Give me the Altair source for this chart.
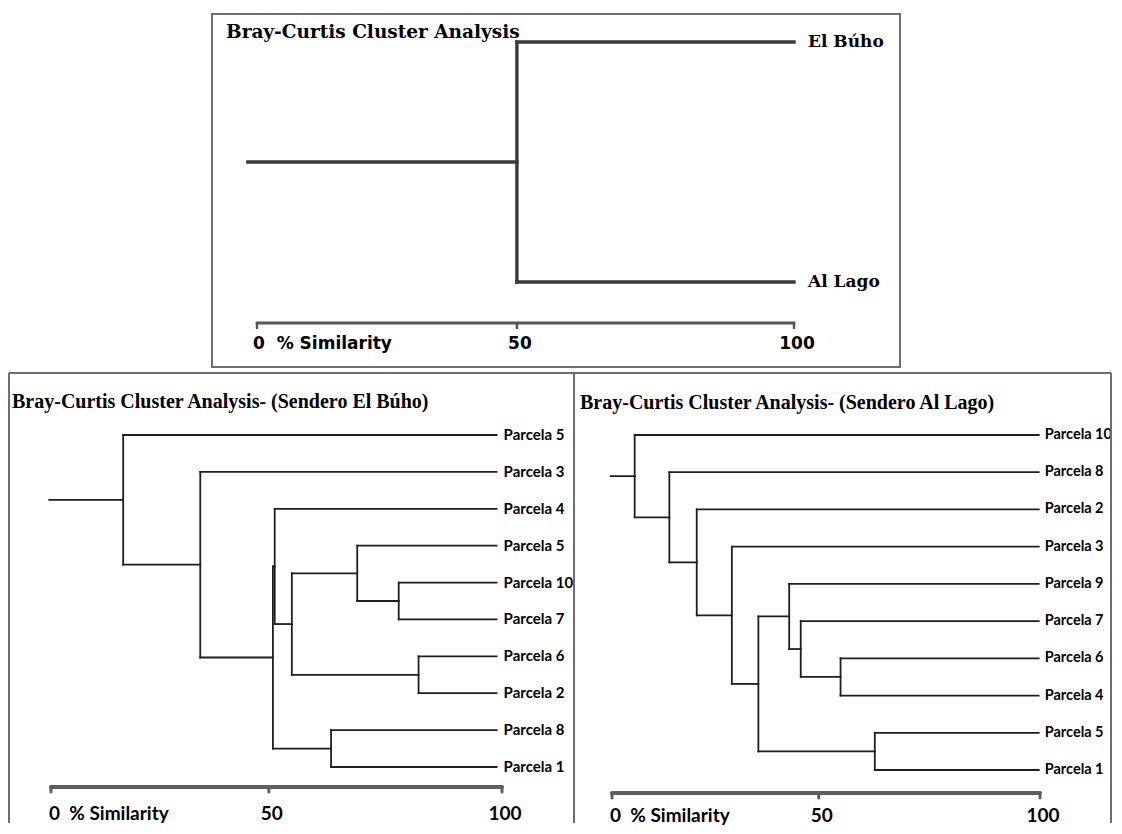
import altair as alt
import pandas as pd

# ---------------- data ----------------
# merges: (child_a, child_b, % similarity); leaves are 0..n-1, new nodes n, n+1, ...
top_leaves = ["El Búho", "Al Lago"]
top_merges = [(0, 1, 48.4)]
top_root_from = -1.7
top_leaf_level = 100.0

buho_leaves = ["Parcela 5", "Parcela 3", "Parcela 4", "Parcela 5", "Parcela 10",
               "Parcela 7", "Parcela 6", "Parcela 2", "Parcela 8", "Parcela 1"]
buho_merges = [(4, 5, 77.1), (3, 10, 67.9), (6, 7, 81.5), (11, 12, 53.4),
               (8, 9, 62.1), (2, 13, 49.6), (15, 14, 49.2), (1, 16, 33.1),
               (0, 17, 16.0)]
buho_root_from = -0.4
buho_leaf_level = 98.8

lago_leaves = ["Parcela 10", "Parcela 8", "Parcela 2", "Parcela 3", "Parcela 9",
               "Parcela 7", "Parcela 6", "Parcela 4", "Parcela 5", "Parcela 1"]
lago_merges = [(6, 7, 53.4), (5, 10, 44.1), (4, 11, 41.4), (8, 9, 61.4),
               (12, 13, 34.2), (3, 14, 28.0), (2, 15, 19.8), (1, 16, 13.4),
               (0, 17, 5.3)]
lago_root_from = -0.3
lago_leaf_level = 99.7

axis_from = 0
axis_to = 100
top_tick_values = [0, 48.4, 100]
bottom_tick_values = [0, 48.3, 100]
tick_labels = ["0\u00a0\u00a0% Similarity", "50", "100"]

top_title = "Bray-Curtis Cluster Analysis"
buho_title = "Bray-Curtis Cluster Analysis- (Sendero El Búho)"
lago_title = "Bray-Curtis Cluster Analysis- (Sendero Al Lago)"

BOX_COLOR = "#6e6e6e"


def segments(n_leaves, merges, root_from, leaf_level):
    ys = [float(i) for i in range(n_leaves)]
    xs = [leaf_level] * n_leaves
    segs = []
    for a, b, s in merges:
        segs.append(dict(x=s, x2=s, y=ys[a], y2=ys[b]))
        segs.append(dict(x=s, x2=xs[a], y=ys[a], y2=ys[a]))
        segs.append(dict(x=s, x2=xs[b], y=ys[b], y2=ys[b]))
        ys.append((ys[a] + ys[b]) / 2)
        xs.append(s)
    segs.append(dict(x=root_from, x2=xs[-1], y=ys[-1], y2=ys[-1]))
    return pd.DataFrame(segs)


def panel(leaves, merges, root_from, leaf_level, ticks, title, g, st, open_bottom):
    n = len(leaves)
    ppu = (g["x100"] - g["x0"]) / 100.0
    xdom = [-g["x0"] / ppu, (g["w"] - g["x0"]) / ppu]
    ppl = (g["ylast"] - g["yfirst"]) / (n - 1)
    ydom = [-g["yfirst"] / ppl, (g["h"] - g["yfirst"]) / ppl]
    xs = alt.Scale(domain=xdom, nice=False, zero=False)
    ysc = alt.Scale(domain=ydom, nice=False, zero=False, reverse=True)

    seg_df = segments(n, merges, root_from, leaf_level)
    branches = alt.Chart(seg_df).mark_rule(
        color=st["line_color"], strokeWidth=st["line_width"], strokeCap="square"
    ).encode(
        x=alt.X("x:Q", scale=xs, axis=None),
        x2="x2:Q",
        y=alt.Y("y:Q", scale=ysc, axis=None),
        y2="y2:Q",
    )

    leaf_df = pd.DataFrame({"x": [leaf_level] * n, "y": list(range(n)), "label": leaves})
    labels = alt.Chart(leaf_df).mark_text(
        align="left", baseline="middle", dx=st["label_dx"], font=st["label_font"],
        fontSize=st["label_size"], fontWeight="bold", color="black"
    ).encode(
        x=alt.X("x:Q", scale=xs, axis=None),
        y=alt.Y("y:Q", scale=ysc, axis=None),
        text="label:N",
    )

    axis_df = pd.DataFrame({"a": [axis_from], "b": [axis_to]})
    axis_line = alt.Chart(axis_df).mark_rule(
        color=st["axis_color"], strokeWidth=st["axis_width"], strokeCap="round"
    ).encode(
        x=alt.X("a:Q", scale=xs, axis=None), x2="b:Q", y=alt.value(g["axis_y"])
    )

    tick_df = pd.DataFrame({"v": ticks, "t": tick_labels})
    tick_marks = alt.Chart(tick_df).mark_rule(
        color=st["axis_color"], strokeWidth=st["tick_width"], strokeCap="round"
    ).encode(
        x=alt.X("v:Q", scale=xs, axis=None),
        y=alt.value(g["axis_y"]),
        y2=alt.value(g["axis_y"] + st["tick_len"]),
    )
    first_label = alt.Chart(tick_df.iloc[:1]).mark_text(
        align="left", baseline="middle", dx=st["first_dx"], font=st["axis_font"],
        fontSize=st["axis_size"], fontWeight="bold", color="black"
    ).encode(x=alt.X("v:Q", scale=xs, axis=None), y=alt.value(g["label_y"]), text="t:N")
    other_labels = alt.Chart(tick_df.iloc[1:]).mark_text(
        align="center", baseline="middle", dx=3, font=st["axis_font"],
        fontSize=st["axis_size"], fontWeight="bold", color="black"
    ).encode(x=alt.X("v:Q", scale=xs, axis=None), y=alt.value(g["label_y"]), text="t:N")

    title_df = pd.DataFrame({"t": [title]})
    title_mark = alt.Chart(title_df).mark_text(
        align="left", baseline="middle", font=st["title_font"],
        fontSize=st["title_size"], fontWeight="bold", color="black"
    ).encode(x=alt.value(g["title_x"]), y=alt.value(g["title_y"]), text="t:N")

    layers = [branches, labels, axis_line, tick_marks, first_label, other_labels, title_mark]

    if open_bottom:
        # frame open at the bottom (the reference is cut off there)
        frame_df = pd.DataFrame({"v": [0]})
        edge = dict(color=BOX_COLOR, strokeWidth=2)
        layers += [
            alt.Chart(frame_df).mark_rule(**edge).encode(
                x=alt.value(0), y=alt.value(0), y2=alt.value(g["h"])),
            alt.Chart(frame_df).mark_rule(**edge).encode(
                x=alt.value(g["w"]), y=alt.value(0), y2=alt.value(g["h"])),
            alt.Chart(frame_df).mark_rule(**edge).encode(
                x=alt.value(0), x2=alt.value(g["w"]), y=alt.value(0)),
        ]
        view = alt.ViewBackground(stroke="transparent", strokeWidth=0)
    else:
        view = alt.ViewBackground(stroke=BOX_COLOR, strokeWidth=2)

    return alt.layer(*layers).properties(width=g["w"], height=g["h"], view=view)


top_style = dict(line_color="#3a3a3a", line_width=3.4, label_font="DejaVu Serif",
                 label_size=17, label_dx=14, axis_font="DejaVu Sans", axis_size=17,
                 axis_color="#555555", axis_width=3, tick_width=2.5, tick_len=5,
                 first_dx=-4, title_font="DejaVu Serif", title_size=18.5)
bottom_style = dict(line_color="#1e1e1e", line_width=1.8, label_font="Lato",
                    label_size=15, label_dx=7, axis_font="Lato", axis_size=19,
                    axis_color="#5e5e5e", axis_width=4, tick_width=3, tick_len=5,
                    first_dx=-2, title_font="Liberation Serif", title_size=20)
lago_style = dict(bottom_style, label_size=14.5, label_dx=6)

top_geom = dict(w=688, h=353, x0=45, x100=582, yfirst=28, ylast=268,
                axis_y=309, label_y=330, title_x=14, title_y=18)
buho_geom = dict(w=565, h=450, x0=42, x100=493, yfirst=62, ylast=394,
                 axis_y=414, label_y=441, title_x=3, title_y=29)
lago_geom = dict(w=537, h=450, x0=38, x100=466, yfirst=62, ylast=397,
                 axis_y=420, label_y=443, title_x=6, title_y=30)

top = panel(top_leaves, top_merges, top_root_from, top_leaf_level,
            top_tick_values, top_title, top_geom, top_style, False)
buho = panel(buho_leaves, buho_merges, buho_root_from, buho_leaf_level,
             bottom_tick_values, buho_title, buho_geom, bottom_style, True)
lago = panel(lago_leaves, lago_merges, lago_root_from, lago_leaf_level,
             bottom_tick_values, lago_title, lago_geom, lago_style, True)

spacer = alt.Chart(pd.DataFrame({"v": [0]})).mark_point(opacity=0).encode(
    x=alt.value(100), y=alt.value(150)
).properties(width=203, height=353,
             view=alt.ViewBackground(stroke="transparent", strokeWidth=0))

top_row = alt.hconcat(spacer, top, spacing=0, bounds="flush")
bottom_row = alt.hconcat(buho, lago, spacing=0, bounds="flush")

chart = alt.vconcat(top_row, bottom_row, spacing=4).properties(
    padding={"left": 0, "top": 5, "right": 0, "bottom": 0}
).configure_view(stroke="transparent").configure(background="white")

chart.save("out.html", embed_options={"renderer": "svg", "actions": False})
